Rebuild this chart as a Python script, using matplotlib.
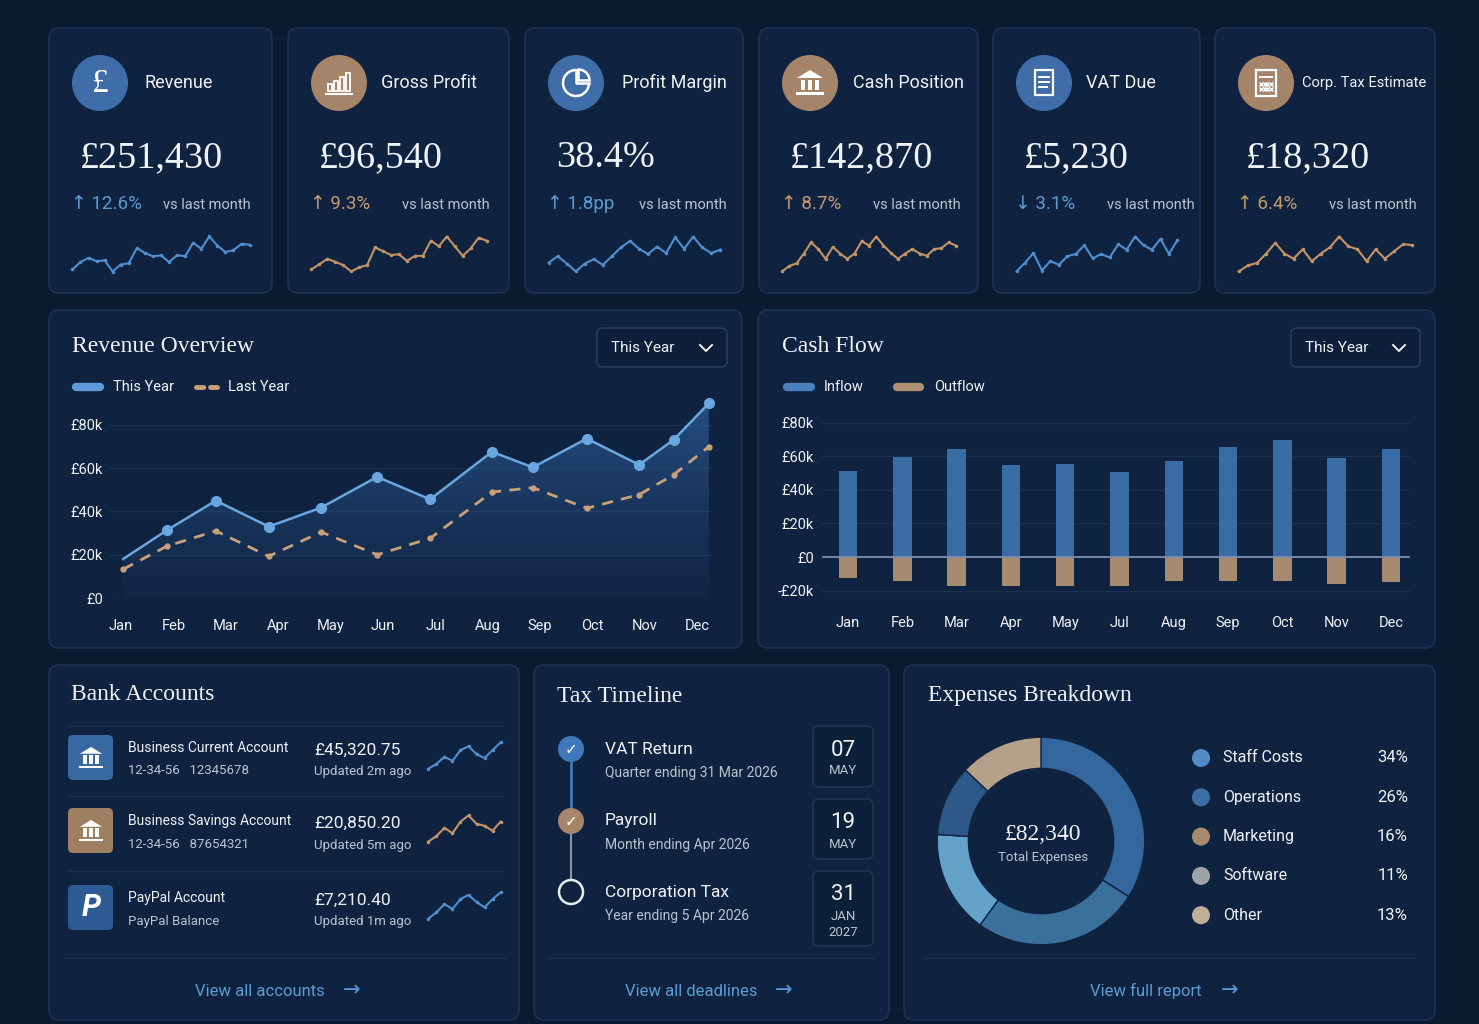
import numpy as np
import matplotlib
matplotlib.use('Agg')
import matplotlib.pyplot as plt
from matplotlib.patches import FancyBboxPatch, Circle, Polygon, Rectangle, Wedge, Arc
from matplotlib.colors import LinearSegmentedColormap

W, H = 1479, 1024
plt.rcParams['font.family'] = ['Roboto', 'DejaVu Sans']
SERIF = ['Liberation Serif', 'DejaVu Serif']

BG = '#0a1a30'
CARD = '#0f2341'
EDGE = '#1b3253'
BLUE = '#5b9bd5'
TAN = '#c49a6c'
TXT = '#eef2f7'
SUB = '#b9c4d1'
GRID = '#1b3150'

# ---- KPI cards
kpi_titles = ['Revenue', 'Gross Profit', 'Profit Margin', 'Cash Position', 'VAT Due', 'Corp. Tax Estimate']
kpi_values = ['£251,430', '£96,540', '38.4%', '£142,870', '£5,230', '£18,320']
kpi_changes = ['12.6%', '9.3%', '1.8pp', '8.7%', '3.1%', '6.4%']
kpi_up = [True, True, True, True, False, True]
kpi_spark = [
    [20, 38, 48, 40, 42, 15, 32, 35, 72, 60, 52, 54, 38, 55, 52, 85, 70, 100, 78, 62, 67, 82, 80],
    [20, 32, 45, 38, 30, 15, 25, 30, 72, 63, 54, 56, 40, 52, 52, 88, 75, 98, 75, 52, 70, 95, 88],
    [40, 55, 38, 20, 38, 48, 35, 55, 75, 90, 72, 60, 77, 62, 98, 72, 100, 75, 62, 70],
    [20, 32, 38, 60, 85, 70, 48, 75, 60, 48, 60, 88, 78, 98, 78, 62, 48, 60, 70, 60, 55, 70, 72, 85, 78],
    [20, 40, 62, 22, 44, 35, 55, 60, 80, 50, 60, 52, 82, 70, 100, 80, 70, 95, 60, 92],
    [18, 32, 38, 60, 85, 60, 48, 70, 42, 60, 75, 100, 77, 70, 42, 70, 48, 65, 82, 80],
]

# ---- Revenue overview (£k)
months = ['Jan', 'Feb', 'Mar', 'Apr', 'May', 'Jun', 'Jul', 'Aug', 'Sep', 'Oct', 'Nov', 'Dec']
rev_pos = [0.04, 0.88, 1.81, 2.82, 3.82, 4.89, 5.9, 7.08, 7.86, 8.89, 9.89, 10.55, 11.22]
rev_this = [18, 31.4, 45, 33, 41.8, 56, 45.6, 67.6, 60.4, 73.7, 61.6, 73.2, 90]
rev_last = [13.3, 24, 31, 19.3, 30.5, 20, 27.6, 49, 51, 41.5, 47.8, 57, 70]

# ---- Cash flow (£k)
cf_months = ['Jan', 'Feb', 'Mar', 'Apr', 'May', 'Jul', 'Aug', 'Sep', 'Oct', 'Nov', 'Dec']
cf_in = [51.2, 59.7, 64.4, 55, 55.1, 50.4, 57.3, 65.2, 69.4, 58.7, 64]
cf_out = [-12.5, -14, -17, -17, -17, -17, -14, -14, -14, -16, -15]

# ---- Bank accounts
acc_names = ['Business Current Account', 'Business Savings Account', 'PayPal Account']
acc_subs = ['12-34-56   12345678', '12-34-56   87654321', 'PayPal Balance']
acc_bal = ['£45,320.75', '£20,850.20', '£7,210.40']
acc_upd = ['Updated 2m ago', 'Updated 5m ago', 'Updated 1m ago']
acc_spark = [
    [8, 20, 38, 28, 55, 65, 45, 35, 55, 75],
    [7, 20, 40, 27, 55, 70, 50, 45, 33, 55],
    [5, 20, 40, 28, 52, 62, 45, 32, 52, 68],
]

# ---- Tax timeline
tax_names = ['VAT Return', 'Payroll', 'Corporation Tax']
tax_subs = ['Quarter ending 31 Mar 2026', 'Month ending Apr 2026', 'Year ending 5 Apr 2026']
tax_day = ['07', '19', '31']
tax_mon = ['MAY', 'MAY', 'JAN']
tax_year = ['', '', '2027']

# ---- Expenses
exp_labels = ['Staff Costs', 'Operations', 'Marketing', 'Software', 'Other']
exp_pct = [34, 26, 16, 11, 13]
exp_total = '£82,340'


fig = plt.figure(figsize=(W / 100, H / 100), dpi=100)
fig.patch.set_facecolor(BG)
bg = fig.add_axes([0, 0, 1, 1])
bg.set_xlim(0, W)
bg.set_ylim(H, 0)
bg.axis('off')


def px_axes(x0, y0, x1, y1):
    a = fig.add_axes([x0 / W, 1 - y1 / H, (x1 - x0) / W, (y1 - y0) / H])
    a.set_facecolor('none')
    return a


def card(x0, y0, x1, y1):
    bg.add_patch(FancyBboxPatch((x0, y0), x1 - x0, y1 - y0, boxstyle='round,pad=0,rounding_size=10',
                                fc=CARD, ec=EDGE, lw=1.2))


def txt(x, y, s, size=11, color=TXT, **kw):
    kw.setdefault('va', 'center')
    bg.text(x, y, s, fontsize=size, color=color, **kw)


def sparkline(x0, y0, x1, y1, vals, color, ms=0):
    a = px_axes(x0, y0, x1, y1)
    a.plot(range(len(vals)), vals, color=color, lw=1.5, marker='o' if ms else None, ms=ms)
    a.set_xlim(-0.3, len(vals) - 0.7)
    a.set_ylim(min(vals) - 6, max(vals) + 6)
    a.axis('off')


def dropdown(x0, x1):
    bg.add_patch(FancyBboxPatch((x0, 328), x1 - x0, 39, boxstyle='round,pad=0,rounding_size=6',
                                fc='#0d1f3a', ec='#2a4264', lw=1))
    txt(x0 + 14, 348, 'This Year', 11, TXT)
    bg.plot([x1 - 27, x1 - 21, x1 - 15], [345, 351, 345], color=TXT, lw=1.4)


def view_link(cx, y, s, x0, x1, ax_x):
    bg.plot([x0, x1], [958, 958], color=GRID, lw=1)
    txt(cx, y, s, 12, BLUE, ha='center')
    txt(ax_x, y - 1, '→', 15, BLUE, ha='center', family=['DejaVu Sans'])


# ---- icons (pixel coords, y down)
def icon_pound(cx, cy):
    txt(cx, cy + 1, '£', 24, 'white', ha='center', family=SERIF)


def icon_bars(cx, cy):
    for i, h in enumerate([7, 10, 14, 18]):
        bg.add_patch(Rectangle((cx - 11 + i * 6, cy + 8 - h), 4, h, fc='none', ec='white', lw=1.3))
    bg.plot([cx - 13, cx + 13], [cy + 11, cy + 11], color='white', lw=1.5)


def icon_pie(cx, cy):
    bg.add_patch(Arc((cx, cy), 26, 26, theta1=0, theta2=270, color='white', lw=1.8))
    bg.plot([cx, cx, cx + 13], [cy - 13, cy, cy], color='white', lw=1.8)
    bg.add_patch(Wedge((cx + 2.5, cy - 2.5), 11, 270, 360, fc='none', ec='white', lw=1.8))


def icon_bank(cx, cy, s=1.0, c='white'):
    bg.add_patch(Polygon([(cx - 13 * s, cy - 5 * s), (cx, cy - 13 * s), (cx + 13 * s, cy - 5 * s)], fc=c, ec='none'))
    for dx in (-9, -2, 5):
        bg.add_patch(Rectangle((cx + dx * s, cy - 3 * s), 4 * s, 10 * s, fc=c, ec='none'))
    bg.add_patch(Rectangle((cx - 14 * s, cy + 9 * s), 28 * s, 3 * s, fc=c, ec='none'))


def icon_receipt(cx, cy):
    bg.add_patch(Rectangle((cx - 9, cy - 13), 18, 25, fc='none', ec='white', lw=1.6))
    for dy, w in ((-6, 5), (-1, 5), (4, 3)):
        bg.plot([cx - 5, cx + w], [cy + dy, cy + dy], color='white', lw=1.4)


def icon_calc(cx, cy):
    bg.add_patch(Rectangle((cx - 10, cy - 13), 20, 26, fc='none', ec='white', lw=1.6))
    bg.plot([cx - 6, cx + 6], [cy - 6, cy - 6], color='white', lw=1.4)
    bg.plot([cx - 5, cx - 1, cx + 1, cx + 5], [cy + 1] * 4, 'x', color='white', ms=3, mew=1)
    bg.plot([cx - 5, cx - 1, cx + 1, cx + 5], [cy + 6] * 4, 'x', color='white', ms=3, mew=1)


icons = [icon_pound, icon_bars, icon_pie, icon_bank, icon_receipt, icon_calc]

# ---- KPI row
card_x0 = [49, 288, 525, 759, 993, 1215]
card_x1 = [272, 509, 743, 978, 1200, 1435]
title_x = [145, 381, 622, 853, 1086, 1302]
for i in range(6):
    x0, x1 = card_x0[i], card_x1[i]
    card(x0, 28, x1, 293)
    accent = BLUE if i % 2 == 0 else TAN
    circ_c = '#3e6da8' if i % 2 == 0 else '#a6846a'
    cx = x0 + 51
    bg.add_patch(Circle((cx, 83), 28, fc=circ_c, ec='none'))
    if i == 3:
        icon_bank(cx, 83)
    else:
        icons[i](cx, 83)
    tsize = 10.6 if i == 5 else 13
    txt(title_x[i], 83, kpi_titles[i], tsize, TXT)
    txt(x0 + 31, 158, kpi_values[i], 27.5, TXT, family=SERIF)
    arrow = '↑' if kpi_up[i] else '↓'
    txt(x0 + 22, 204, arrow + ' ' + kpi_changes[i], 13.5, accent)
    txt(x0 + 114, 205, 'vs last month', 10.5, SUB)
    sparkline(x0 + 21, 234, x1 - 20, 274, kpi_spark[i], '#4f8fd0' if i % 2 == 0 else '#c29466', ms=1.5)

# ---- Revenue overview panel
card(49, 310, 742, 648)
card(758, 310, 1435, 648)
txt(72, 346, 'Revenue Overview', 17, TXT, family=SERIF)
dropdown(597, 727)
dropdown(1291, 1420)

bg.plot([76, 100], [387, 387], color='#5f9bd8', lw=6, solid_capstyle='round')
txt(113, 387, 'This Year', 10.5, TXT)
bg.plot([196, 217], [387, 387], color='#c9a07a', lw=3.5, ls=(0, (1.5, 1.4)), dash_capstyle='round')
txt(228, 387, 'Last Year', 10.5, TXT)

ax = px_axes(110, 399, 712, 598)
ymax = 92
grad = np.linspace(1, 0, 256).reshape(-1, 1)
cmap = LinearSegmentedColormap.from_list('g', [(0.18, 0.36, 0.60, 0.05), (0.22, 0.45, 0.72, 0.55)])
im = ax.imshow(grad, extent=[rev_pos[0], rev_pos[-1], 0, ymax], aspect='auto', cmap=cmap, zorder=1)
verts = [(rev_pos[0], 0)] + list(zip(rev_pos, rev_this)) + [(rev_pos[-1], 0)]
poly = Polygon(verts, fc='none', ec='none', transform=ax.transData)
ax.add_patch(poly)
im.set_clip_path(poly)
ax.plot(rev_pos, rev_last, color='#c9a07a', lw=2, ls=(0, (4, 3)), marker='o', ms=3.5, zorder=3)
ax.plot(rev_pos[1:], rev_this[1:], color='#6aa6e0', lw=0, marker='o', ms=7, zorder=5, clip_on=False)
ax.plot(rev_pos, rev_this, color='#6aa6e0', lw=1.8, zorder=4, clip_on=False)
ax.set_xlim(-0.21, 11.28)
ax.set_ylim(0, ymax)
ax.set_yticks([0, 20, 40, 60, 80])
ax.set_yticklabels(['£0', '£20k', '£40k', '£60k', '£80k'])
ax.set_xticks(range(12))
ax.set_xticklabels(months)
ax.tick_params(length=0, colors=TXT, labelsize=10.5)
ax.tick_params(axis='y', pad=5)
ax.tick_params(axis='x', pad=15)
ax.grid(axis='y', color=GRID, lw=1)
ax.set_axisbelow(True)
for sp in ax.spines.values():
    sp.set_visible(False)

# ---- Cash flow panel
txt(782, 346, 'Cash Flow', 17, TXT, family=SERIF)
bg.plot([787, 811], [387, 387], color='#4a80bd', lw=6, solid_capstyle='round')
txt(824, 387, 'Inflow', 10.5, TXT)
bg.plot([897, 920], [387, 387], color='#b08e70', lw=6, solid_capstyle='round')
txt(934, 387, 'Outflow', 10.5, TXT)

cx_ax = px_axes(822, 409, 1410, 597)
xs = np.arange(len(cf_months))
cx_ax.bar(xs, cf_in, width=0.34, color='#3a6ca4', zorder=3)
cx_ax.bar(xs, cf_out, width=0.34, color='#a58a70', zorder=3)
cx_ax.axhline(0, color='#7d8fa8', lw=1.3, zorder=4)
cx_ax.set_xlim(-0.48, 10.35)
cx_ax.set_ylim(-23.8, 88.1)
cx_ax.set_yticks([-20, 0, 20, 40, 60, 80])
cx_ax.set_yticklabels(['-£20k', '£0', '£20k', '£40k', '£60k', '£80k'])
cx_ax.set_xticks(xs)
cx_ax.set_xticklabels(cf_months)
cx_ax.tick_params(length=0, colors=TXT, labelsize=10.5)
cx_ax.tick_params(axis='y', pad=6)
cx_ax.tick_params(axis='x', pad=14)
cx_ax.grid(axis='y', color=GRID, lw=1)
cx_ax.set_axisbelow(True)
for sp in cx_ax.spines.values():
    sp.set_visible(False)

# ---- Bank accounts
card(49, 665, 519, 1020)
txt(71, 695, 'Bank Accounts', 17, TXT, family=SERIF)
row_y = [757, 830, 907]
icon_cols = ['#3a68a3', '#9f7f61', '#2f5b94']
for y in (726, 796, 871):
    bg.plot([68, 503], [y, y], color=GRID, lw=1)
for i, y in enumerate(row_y):
    bg.add_patch(FancyBboxPatch((68, y - 22), 45, 45, boxstyle='round,pad=0,rounding_size=5',
                                fc=icon_cols[i], ec='none'))
    if i < 2:
        icon_bank(91, y + 1, 0.85)
    else:
        txt(91, y + 1, 'P', 22, 'white', ha='center', weight='bold', style='italic')
    txt(128, y - 9, acc_names[i], 10, TXT)
    txt(128, y + 14, acc_subs[i], 9.5, SUB)
    txt(314, y - 7, acc_bal[i], 12.5, TXT)
    txt(314, y + 15, acc_upd[i], 9.5, SUB)
    sparkline(426, y - 17, 503, y + 14, acc_spark[i], '#4f8fd0' if i != 1 else '#c29466', ms=1.5)
view_link(260, 991, 'View all accounts', 64, 505, 352)

# ---- Tax timeline
card(534, 665, 889, 1020)
txt(557, 696, 'Tax Timeline', 17, TXT, family=SERIF)
tl_y = [749, 821, 892]
bg.plot([571, 571], [749, 821], color='#4a80bd', lw=1.8, zorder=1)
bg.plot([571, 571], [821, 892], color='#8a96a6', lw=1.5, zorder=1)
bg.add_patch(Circle((571, 749), 13, fc='#4078bb', ec='none', zorder=2))
bg.add_patch(Circle((571, 821), 13, fc='#a6856a', ec='none', zorder=2))
bg.add_patch(Circle((571, 892), 12, fc=CARD, ec='#e6ebf1', lw=1.8, zorder=2))
for y in tl_y[:2]:
    txt(571, y + 1, '✓', 11, 'white', ha='center', family=['DejaVu Sans'], zorder=3)
box_y = [(726, 787), (799, 859), (871, 946)]
for i, y in enumerate(tl_y):
    txt(605, y, tax_names[i], 12.5, TXT)
    txt(605, y + 24, tax_subs[i], 10, SUB)
    b0, b1 = box_y[i]
    bg.add_patch(FancyBboxPatch((813, b0), 60, b1 - b0, boxstyle='round,pad=0,rounding_size=6',
                                fc='#0d2039', ec='#24395a', lw=1))
    txt(843, b0 + 24, tax_day[i], 16, TXT, ha='center')
    txt(843, b0 + 45, tax_mon[i], 9.5, SUB, ha='center')
    if tax_year[i]:
        txt(843, b0 + 62, tax_year[i], 9.5, SUB, ha='center')
view_link(691, 991, 'View all deadlines', 548, 873, 784)

# ---- Expenses breakdown
card(904, 665, 1435, 1020)
txt(928, 696, 'Expenses Breakdown', 17, TXT, family=SERIF)
ring_cols = ['#34679e', '#3a7099', '#64a2c9', '#2d5887', '#b7a08a']
dax = px_axes(1041 - 110, 841 - 110, 1041 + 110, 841 + 110)
dax.pie(exp_pct, colors=ring_cols, startangle=90, counterclock=False, radius=1,
        wedgeprops=dict(width=0.3, edgecolor=CARD, linewidth=1))
dax.set_xlim(-1.06, 1.06)
dax.set_ylim(-1.06, 1.06)
dax.set_aspect('equal')
dax.axis('off')
txt(1043, 834, exp_total, 17, TXT, ha='center', family=SERIF)
txt(1043, 858, 'Total Expenses', 9.5, SUB, ha='center')
dot_cols = ['#4f8bc9', '#3d6fa6', '#a88a6e', '#9ea3aa', '#c2ad98']
for i, lab in enumerate(exp_labels):
    y = 758 + i * 39.3
    bg.add_patch(Circle((1201, y), 9, fc=dot_cols[i], ec='none'))
    txt(1223, y, lab, 11.5, TXT)
    txt(1408, y, f'{exp_pct[i]}%', 12, TXT, ha='right')
view_link(1146, 991, 'View full report', 925, 1415, 1230)

fig.savefig('out.png', dpi=100, facecolor=BG)
